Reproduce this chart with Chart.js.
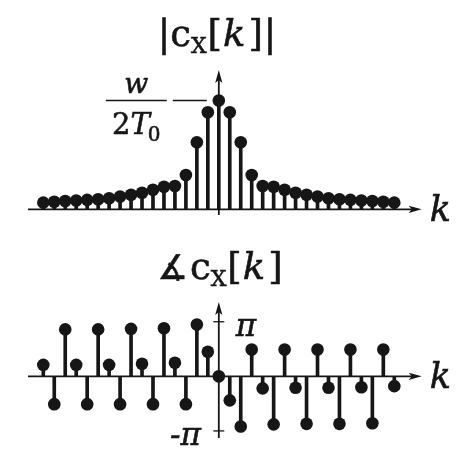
<!DOCTYPE html>
<html>
<head>
<meta charset="utf-8">
<script src="https://cdn.jsdelivr.net/npm/chart.js@4.4.1/dist/chart.umd.min.js"></script>
<style>
  html, body { margin: 0; padding: 0; background: #ffffff; }
  #wrap { position: relative; width: 459px; height: 449px; }
  canvas { position: absolute; left: 0; }
  #mag { top: 0; }
  #phase { top: 230px; }
</style>
</head>
<body>
<div id="wrap">
  <canvas id="mag" width="459" height="230"></canvas>
  <canvas id="phase" width="459" height="219"></canvas>
</div>
<script>
// Harmonic numbers k
const harmonics = ['-16','-15','-14','-13','-12','-11','-10','-9','-8','-7','-6','-5','-4','-3','-2','-1',
                   '0','1','2','3','4','5','6','7','8','9','10','11','12','13','14','15','16'];

// |c_x[k]| in units of w/(2T0)
const magnitude = [0.061, 0.070, 0.076, 0.081, 0.087, 0.092, 0.101, 0.117, 0.134, 0.152, 0.180, 0.208, 0.214, 0.315, 0.616, 0.892,
                   1.000,
                   0.892, 0.616, 0.315, 0.214, 0.208, 0.180, 0.152, 0.134, 0.117, 0.101, 0.092, 0.087, 0.081, 0.076, 0.070, 0.061];

// angle of c_x[k] in units of pi
const phaseInPi = [0.21, -0.51, 0.86, 0.21, -0.51, 0.86, 0.21, -0.51, 0.87, 0.23, -0.51, 0.88, 0.25, -0.51, 0.95, 0.45,
                   0.00,
                   -0.44, -0.92, 0.49, -0.22, -0.88, 0.49, -0.21, -0.87, 0.49, -0.21, -0.87, 0.49, -0.20, -0.86, 0.49, -0.18];

// labelled levels on the vertical axes
const magTickValue = 1;          // w / 2T0
const phaseTickValues = [1, -1]; // pi, -pi
const phaseTickLabels = ['π', '-π'];

const INK = '#161616';
const SERIF = "'DejaVu Serif', 'Liberation Serif', serif";

// fill text with a thin outline so the strokes read a little heavier
function inkText(ctx, t, x, y) {
  ctx.fillText(t, x, y);
  ctx.lineWidth = 0.6;
  ctx.strokeText(t, x, y);
}

// draw a row of text pieces with individual fonts and offsets
function drawRuns(ctx, runs, x, y, align) {
  let total = 0;
  runs.forEach(r => { ctx.font = r.f; r.w = ctx.measureText(r.t).width; total += r.w + (r.gap || 0); });
  let cx = align === 'center' ? x - total / 2 : x;
  ctx.textBaseline = 'alphabetic';
  ctx.textAlign = 'left';
  runs.forEach(r => {
    ctx.font = r.f;
    inkText(ctx, r.t, cx, y + (r.dy || 0));
    cx += r.w + (r.gap || 0);
  });
}

function arrowHead(ctx, x, y, dir) {
  const L = 13, H = 3.6;
  ctx.beginPath();
  if (dir === 'right') { ctx.moveTo(x, y); ctx.lineTo(x - L, y - H); ctx.lineTo(x - L + 3, y); ctx.lineTo(x - L, y + H); }
  else { ctx.moveTo(x, y); ctx.lineTo(x - H, y + L); ctx.lineTo(x, y + L - 3); ctx.lineTo(x + H, y + L); }
  ctx.closePath();
  ctx.fill();
}

const stemAxes = {
  id: 'stemAxes',
  beforeDatasetsDraw(chart, args, o) {
    const ctx = chart.ctx, xs = chart.scales.x, ys = chart.scales.y, ca = chart.chartArea;
    const x0 = xs.getPixelForValue(harmonics.indexOf('0'));
    const y0 = ys.getPixelForValue(0);
    ctx.save();
    ctx.strokeStyle = INK; ctx.fillStyle = INK; ctx.lineWidth = 1.8;
    // horizontal axis
    const xa = ca.left - 15.3, xb = ca.right + 27.4;
    ctx.beginPath(); ctx.moveTo(xa, y0); ctx.lineTo(xb - 8, y0); ctx.stroke();
    arrowHead(ctx, xb, y0, 'right');
    // vertical axis
    const yTop = o.axisTop, yBot = o.axisBottom;
    ctx.beginPath(); ctx.moveTo(x0, yBot); ctx.lineTo(x0, yTop + 8); ctx.stroke();
    arrowHead(ctx, x0, yTop, 'up');
    // axis name
    ctx.font = `italic 35px ${SERIF}`;
    ctx.textBaseline = 'alphabetic';
    ctx.textAlign = 'left';
    inkText(ctx, 'k', xb + 8, y0 + 12);
    ctx.restore();
  },
  afterDraw(chart, args, o) {
    const ctx = chart.ctx, xs = chart.scales.x, ys = chart.scales.y;
    const x0 = xs.getPixelForValue(harmonics.indexOf('0'));
    ctx.save();
    ctx.fillStyle = INK; ctx.strokeStyle = INK;
    drawRuns(ctx, o.title, o.titleX, o.titleY, 'center');
    if (o.kind === 'mag') {
      const yv = ys.getPixelForValue(magTickValue);
      ctx.lineWidth = 1.6;
      // level marker
      ctx.beginPath(); ctx.moveTo(x0 - 46, yv); ctx.lineTo(x0 - 12, yv); ctx.stroke();
      // fraction w / 2T0
      ctx.beginPath(); ctx.moveTo(x0 - 113, yv); ctx.lineTo(x0 - 52, yv); ctx.stroke();
      const fx = x0 - 82.5;
      drawRuns(ctx, [{ t: 'w', f: `italic 28px ${SERIF}` }], fx, yv - 8, 'center');
      drawRuns(ctx, [
        { t: '2', f: `29px ${SERIF}` },
        { t: 'T', f: `italic 29px ${SERIF}`, gap: -2 },
        { t: '0', f: `20px ${SERIF}`, dy: 7 }
      ], fx, yv + 33, 'center');
    } else {
      phaseTickValues.forEach((v, i) => {
        const yv = ys.getPixelForValue(v);
        ctx.lineWidth = 1.3;
        ctx.beginPath(); ctx.moveTo(x0 - 5.5, yv); ctx.lineTo(x0 + 5.5, yv); ctx.stroke();
        ctx.font = `italic 31px ${SERIF}`;
        ctx.textBaseline = 'alphabetic';
        if (v > 0) { ctx.textAlign = 'left'; inkText(ctx, phaseTickLabels[i], x0 + 17, yv + 14); }
        else { ctx.textAlign = 'right'; inkText(ctx, phaseTickLabels[i], x0 - 18, yv + 14); }
      });
    }
    ctx.restore();
  }
};

function stemChart(id, values, yMin, yMax, padding, extra) {
  return new Chart(document.getElementById(id), {
    data: {
      labels: harmonics,
      datasets: [
        { type: 'line', data: values, showLine: false, pointRadius: 6.3, pointBorderWidth: 0,
          pointBackgroundColor: INK, clip: false, order: 0 },
        { type: 'bar', data: values, backgroundColor: INK, barThickness: 3, clip: false, order: 1 }
      ]
    },
    options: {
      responsive: false, animation: false, events: [],
      layout: { padding: padding, autoPadding: false },
      plugins: { legend: { display: false }, tooltip: { enabled: false }, title: { display: false }, stemAxes: extra },
      scales: {
        x: { type: 'category', labels: harmonics, offset: false, display: false },
        y: { type: 'linear', min: yMin, max: yMax, display: false }
      }
    },
    plugins: [stemAxes]
  });
}

const bigSerif = `37px ${SERIF}`;
const subSerif = `22px ${SERIF}`;

stemChart('mag', magnitude, 0, 1.3, { left: 43.3, right: 64.7, top: 67.9, bottom: 20.7 }, {
  kind: 'mag', axisTop: 70, axisBottom: 215,
  titleX: 217, titleY: 46,
  title: [
    { t: '|', f: bigSerif, gap: 0 },
    { t: 'c', f: bigSerif, gap: 0 },
    { t: 'X', f: subSerif, dy: 7, gap: 1 },
    { t: '[', f: bigSerif, gap: 1 },
    { t: 'k', f: `italic 37px ${SERIF}`, gap: 3 },
    { t: ']', f: bigSerif, gap: 1 },
    { t: '|', f: bigSerif }
  ]
});

stemChart('phase', phaseInPi, -1.3, 1.4, { left: 43.3, right: 64.7, top: 69.9, bottom: 1.7 }, {
  kind: 'phase', axisTop: 72, axisBottom: 208,
  titleX: 220, titleY: 49,
  title: [
    { t: '∡', f: `34px 'DejaVu Sans', sans-serif`, gap: 2 },
    { t: 'c', f: bigSerif, gap: 0 },
    { t: 'X', f: subSerif, dy: 7, gap: 1 },
    { t: '[', f: bigSerif, gap: 1 },
    { t: 'k', f: `italic 37px ${SERIF}`, gap: 3 },
    { t: ']', f: bigSerif }
  ]
});
</script>
</body>
</html>
